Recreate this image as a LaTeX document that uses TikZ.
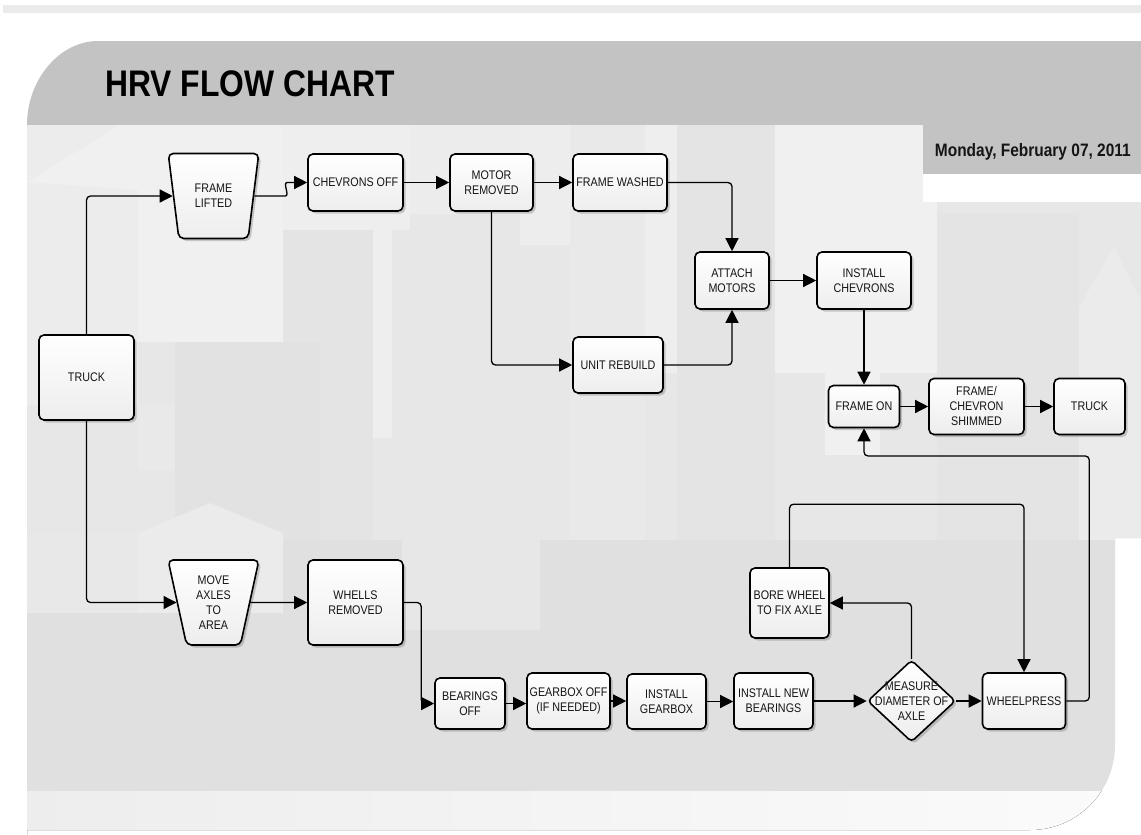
\documentclass[tikz,border=0pt]{standalone}
\usepackage{fontspec}
\setmainfont{Liberation Sans}[FakeStretch=0.86]
\usetikzlibrary{arrows.meta,shapes.geometric,shadows,calc}

\definecolor{hdrgray}{HTML}{C3C3C3}
\definecolor{bandgray}{HTML}{EBEBEB}
\definecolor{basegray}{HTML}{E0E0E0}
\definecolor{txt}{HTML}{151515}

\newcommand\hrvBoxFont{\fontsize{12.5}{15}\selectfont}
\newcommand\hrvTitleFont{\fontsize{37}{40}\selectfont\bfseries}
\newcommand\hrvDateFont{\fontsize{18}{21}\selectfont\bfseries}

\tikzset{
  box/.style={draw=black, line width=1.6pt, rounded corners=5pt,
    top color=white, bottom color=black!7,
    drop shadow={shadow xshift=2.5pt, shadow yshift=-2.5pt, opacity=0.18, fill=black},
    align=center, font=\hrvBoxFont, text=txt, inner sep=2pt},
  trap/.style={box, trapezium, shape border rotate=180, trapezium stretches=true,
    trapezium angle=77, minimum width=91pt, minimum height=85pt},
  dia/.style={diamond, draw=black, line width=1.6pt, rounded corners=4pt,
    top color=white, bottom color=black!7,
    drop shadow={shadow xshift=2.5pt, shadow yshift=-2.5pt, opacity=0.18, fill=black},
    minimum width=88pt, minimum height=82pt, inner sep=0pt},
  conn/.style={line width=1.3pt, draw=black, -{Triangle[length=13pt,width=13pt]}},
  elbow/.style={conn, rounded corners=4pt},
  blk/.style={draw=none},
}

\begin{document}
\begin{tikzpicture}[x=1pt,y=-1pt]
\useasboundingbox (0,0) rectangle (1141,835);
\fill[white] (0,0) rectangle (1141,835);

% thin strip along the top edge
\fill[bandgray] (3,5) rectangle (1141,13);

% header bar with the big rounded corner
\fill[hdrgray] (27,125) .. controls (27,79) and (60,41) .. (98,41) -- (1141,41) -- (1141,125) -- cycle;

% body of the sheet with a skyline drawn into it
\begin{scope}
  \clip (27,125) -- (1141,125) -- (1141,538) -- (1115,538) -- (1115,745)
        .. controls (1115,792) and (1077,830) .. (1030,830) -- (27,830) -- (27,835) -- cycle;
  \fill[basegray] (0,120) rectangle (1141,835);
  \fill[blk, fill=black!9.5] (27,125) rectangle (1141,540);
  \fill[blk, fill=black!7.5] (27,125) rectangle (138,405);
  \fill[blk, fill=black!6] (27,182) -- (120,125) -- (138,125) -- (138,190) -- cycle;
  \fill[blk, fill=black!6] (138,125) rectangle (283,342);
  \fill[blk, fill=black!6.5] (283,125) rectangle (410,230);
  \fill[blk, fill=black!6.5] (373,230) rectangle (392,438);
  \fill[blk, fill=black!10.5] (283,230) rectangle (373,540);
  \fill[blk, fill=black!11.5] (175,342) rectangle (320,540);
  \fill[blk, fill=black!8.5] (138,405) rectangle (175,470);
  \fill[blk, fill=black!7.5] (410,125) rectangle (520,214);
  \fill[blk, fill=black!7] (520,125) rectangle (570,245);
  \fill[blk, fill=black!8.5] (570,125) rectangle (645,540);
  \fill[blk, fill=black!6.5] (645,125) rectangle (677,373);
  \fill[blk, fill=black!10.5] (677,125) rectangle (775,540);
  \fill[blk, fill=black!6] (775,125) rectangle (937,373);
  \fill[blk, fill=black!6] (825,373) rectangle (880,455);
  \fill[blk, fill=black!10.5] (937,213) rectangle (1079,540);
  \fill[blk, fill=black!8] (1079,540) -- (1079,307) -- (1114,247) -- (1141,300) -- (1141,540) -- cycle;
  \fill[blk, fill=black!9] (27,533) rectangle (138,613);
  \fill[blk, fill=black!8] (138,533) -- (210,503) -- (283,533) -- (283,613) -- (138,613) -- cycle;
  \fill[blk, fill=black!9.5] (402,540) rectangle (540,630);
  \fill[left color=black!7, right color=black!1.5] (27,791) rectangle (1141,835);
\end{scope}

% date panel
\fill[hdrgray] (923,125) rectangle (1141,174);
\fill[white] (923,174) rectangle (1141,202);

% headings
\node[anchor=base west, font=\hrvTitleFont, text=black, inner sep=0pt] (title) at (105,96) {HRV FLOW CHART};
\node[anchor=base east, font=\hrvDateFont, text=txt, inner sep=0pt] (date) at (1131,156) {Monday, February 07, 2011};

% process steps
\node[box, minimum width=95pt, minimum height=85pt] (truck1) at (86.5,377.5) {TRUCK};
\node[trap] (fl) at (213.5,196) {FRAME\\LIFTED};
\node[box, minimum width=95pt, minimum height=57pt] (chev) at (355.5,182.5) {CHEVRONS OFF};
\node[box, minimum width=83pt, minimum height=57pt] (motor) at (491.5,182.5) {MOTOR\\REMOVED};
\node[box, minimum width=94pt, minimum height=57pt] (washed) at (620,182.5) {FRAME WASHED};
\node[box, minimum width=74pt, minimum height=57pt] (attach) at (732,280.5) {ATTACH\\MOTORS};
\node[box, minimum width=94pt, minimum height=57pt] (instchev) at (864,280.5) {INSTALL\\CHEVRONS};
\node[box, minimum width=90pt, minimum height=56pt] (unit) at (618,365) {UNIT REBUILD};
\node[box, minimum width=71pt, minimum height=42pt] (frameon) at (864,406.5) {FRAME ON};
\node[box, minimum width=95pt, minimum height=56pt] (shim) at (976.5,406.5) {FRAME/\\CHEVRON\\SHIMMED};
\node[box, minimum width=71pt, minimum height=56pt] (truck2) at (1089.5,406.5) {TRUCK};

\node[trap] (move) at (213.5,602.5) {MOVE\\AXLES\\TO\\AREA};
\node[box, minimum width=95pt, minimum height=85pt] (whells) at (355.5,602.5) {WHELLS\\REMOVED};
\node[box, minimum width=70pt, minimum height=51pt] (bear) at (470,703.5) {BEARINGS\\OFF};
\node[box, minimum width=83pt, minimum height=56pt] (gearoff) at (568.5,701) {GEARBOX OFF\\(IF NEEDED)};
\node[box, minimum width=79pt, minimum height=55pt] (instgear) at (666.5,701.5) {INSTALL\\GEARBOX};
\node[box, minimum width=79pt, minimum height=56pt] (instnew) at (773.5,701) {INSTALL NEW\\BEARINGS};
\node[dia] (measure) at (911.5,701) {};
\node[font=\hrvBoxFont, text=txt, align=center, inner sep=0pt] (measuretxt) at (911.5,701) {MEASURE\\DIAMETER OF\\AXLE};
\node[box, minimum width=83pt, minimum height=56pt] (wheel) at (1024,701) {WHEELPRESS};
\node[box, minimum width=79pt, minimum height=70pt] (bore) at (789.5,603) {BORE WHEEL\\TO FIX AXLE};

% helper points for the routed connectors
\coordinate (h1) at ($(fl.east)+(31,0)$);
\coordinate (h2) at ($(chev.west)+(-20,0)$);
\coordinate (boretop) at ($(bore.north)+(0,-63)$);
\coordinate (ret) at ($(wheel.east)+(23,-245)$);
\coordinate (drop) at ($(bear.west)+(-13,0)$);

% connectors
\draw[elbow] (truck1.north) |- (fl.west);
\draw[elbow] (truck1.south) |- (move.west);
\draw[conn] (fl.east) -- (h1) .. controls ($(h1)+(5,0)$) and ($(h2)+(-5,0)$) .. (h2) -- (chev.west);
\draw[conn] (chev.east) -- (motor.west);
\draw[conn] (motor.east) -- (washed.west);
\draw[elbow] (washed.east) -| (attach.north);
\draw[elbow] (motor.south) |- (unit.west);
\draw[elbow] (unit.east) -| (attach.south);
\draw[conn] (attach.east) -- (instchev.west);
\draw[conn] (instchev.south) -- (frameon.north);
\draw[conn] (frameon.east) -- (shim.west);
\draw[conn] (shim.east) -- (truck2.west);
\draw[conn] (move.east) -- (whells.west);
\draw[elbow] (whells.east) -| (drop) -- (bear.west);
\draw[conn] (bear.east) -- (bear.east -| gearoff.west);
\draw[conn] (gearoff.east) -- (gearoff.east -| instgear.west);
\draw[conn] (instgear.east) -- (instgear.east -| instnew.west);
\draw[conn] (instnew.east) -- (measure.west);
\draw[conn] (measure.east) -- (wheel.west);
\draw[elbow] (measure.north) |- (bore.east);
\draw[elbow] (bore.north) -- (boretop) -| (wheel.north);
\draw[elbow] (wheel.east) -| (ret) -| (frameon.south);
\end{tikzpicture}
\end{document}
